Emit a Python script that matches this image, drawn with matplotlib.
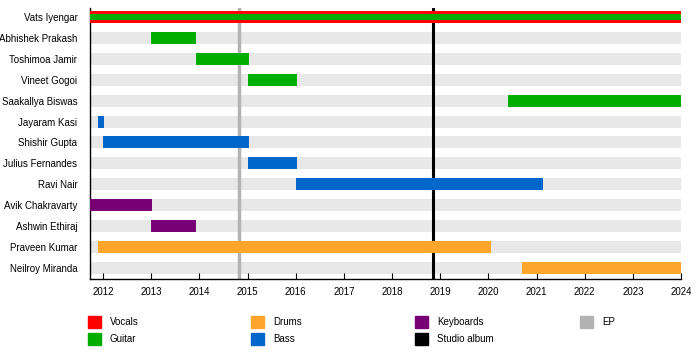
import matplotlib.pyplot as plt
from matplotlib.patches import Rectangle

plt.rcParams['font.family'] = ['Liberation Sans', 'DejaVu Sans']
plt.rcParams['font.size'] = 7

# members top to bottom
members = ["Vats Iyengar", "Abhishek Prakash", "Toshimoa Jamir", "Vineet Gogoi",
           "Saakallya Biswas", "Jayaram Kasi", "Shishir Gupta", "Julius Fernandes",
           "Ravi Nair", "Avik Chakravarty", "Ashwin Ethiraj", "Praveen Kumar",
           "Neilroy Miranda"]
roles = ["Vocals", "Guitar", "Guitar", "Guitar", "Guitar", "Bass", "Bass", "Bass",
         "Bass", "Keyboards", "Keyboards", "Drums", "Drums"]
starts = [2011.73, 2013.0, 2013.93, 2015.0, 2020.4, 2011.9, 2012.0, 2015.0,
          2016.0, 2011.73, 2013.0, 2011.9, 2020.7]
ends = [2024.0, 2013.93, 2015.03, 2016.03, 2024.0, 2012.02, 2015.03, 2016.03,
        2021.13, 2013.02, 2013.93, 2020.05, 2024.0]

ep_dates = [2014.83]
album_dates = [2018.86]

years = list(range(2012, 2025))
x_start, x_end = 2011.73, 2024.0

colors = {"Vocals": "#ff0000", "Guitar": "#00ad00", "Drums": "#ffa52c",
          "Bass": "#0066cc", "Keyboards": "#770077", "Studio album": "#000000",
          "EP": "#b3b3b3"}
legend_items = ["Vocals", "Guitar", "Drums", "Bass", "Keyboards", "Studio album", "EP"]

fig = plt.figure(figsize=(7, 3.64), dpi=100)
ax = fig.add_axes([90 / 700, 1 - 279 / 364, (681 - 90) / 700, (279 - 8) / 364])

bh = 0.57
# background bands
for i in range(len(members)):
    ax.barh(i, x_end - x_start, left=x_start, height=bh, color="#e8e8e8", zorder=1)

for d in ep_dates:
    ax.axvline(d, color=colors["EP"], lw=2.5, zorder=2)
for d in album_dates:
    ax.axvline(d, color=colors["Studio album"], lw=2.2, zorder=2)

for i, (r, s, e) in enumerate(zip(roles, starts, ends)):
    ax.barh(i, e - s, left=s, height=bh, color=colors[r], zorder=3)
# Vats also plays guitar
ax.barh(0, ends[0] - starts[0], left=starts[0], height=bh * 0.57,
        color=colors["Guitar"], zorder=4)

ax.set_xlim(x_start, x_end)
ax.set_ylim(len(members) - 1 + 0.53, -0.43)
ax.set_yticks(range(len(members)))
ax.set_yticklabels(members)
ax.set_xticks(years)
ax.set_xticklabels([str(y) for y in years])
ax.tick_params(axis="y", length=0, pad=9)
ax.tick_params(axis="x", direction="in", length=4, pad=6)
for s in ["top", "right"]:
    ax.spines[s].set_visible(False)
ax.spines["left"].set_linewidth(1)
ax.spines["bottom"].set_linewidth(1)

# legend laid out in columns of two
col_x = [88, 251, 415, 580]
row_y = [316, 333]
for k, name in enumerate(legend_items):
    cx = col_x[k // 2]
    ry = row_y[k % 2]
    fig.add_artist(Rectangle((cx / 700, 1 - (ry + 12) / 364), 13 / 700, 12 / 364,
                             transform=fig.transFigure, color=colors[name]))
    fig.text((cx + 22) / 700, 1 - (ry + 6) / 364, name, va="center", ha="left")

fig.savefig("out.png", dpi=100)
